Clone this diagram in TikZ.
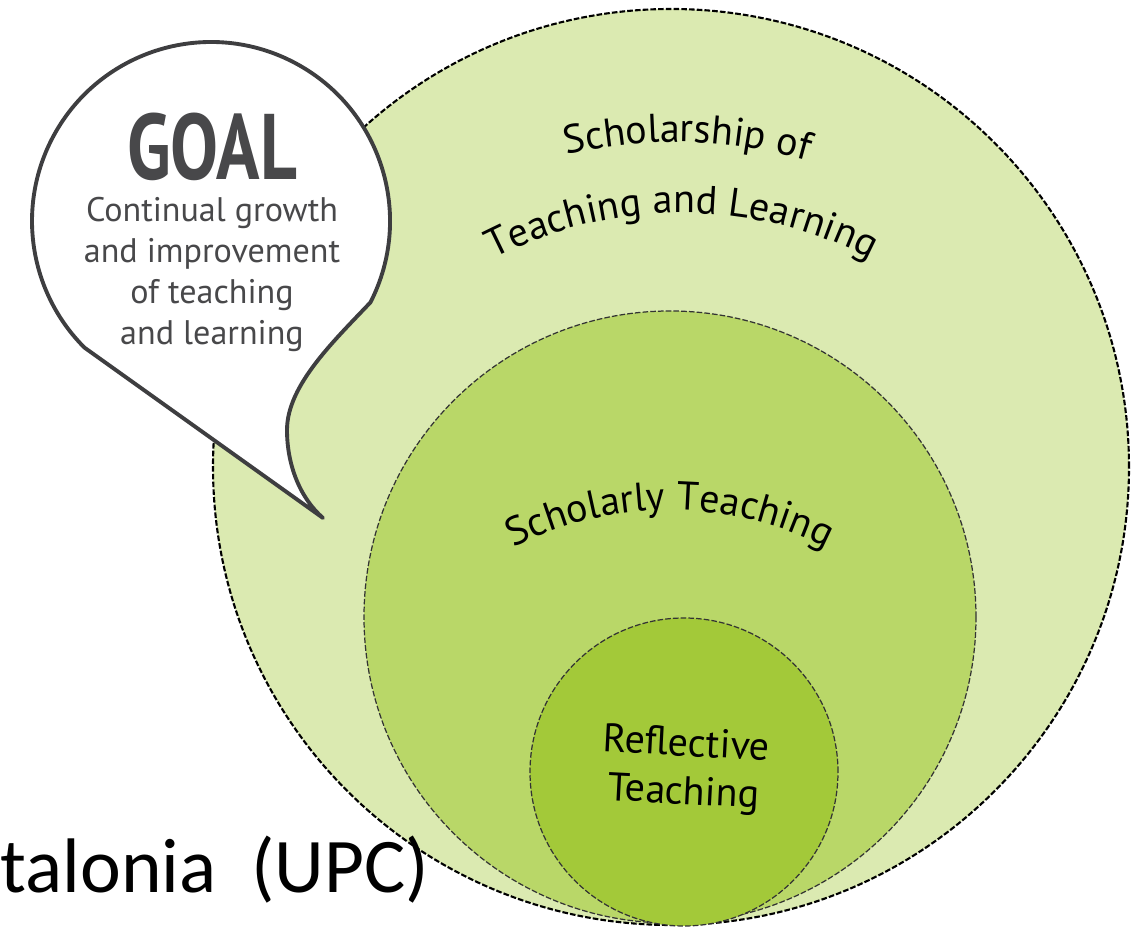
\documentclass[tikz,border=0pt]{standalone}
\usepackage{fontspec}
\setmainfont{PT Sans}
\newfontfamily\goalfont[FakeStretch=0.77]{PT Sans Bold}
\newfontfamily\slidefont{Carlito}
\usetikzlibrary{decorations.text}
\definecolor{outerfill}{RGB}{219,234,177}
\definecolor{midfill}{RGB}{185,215,104}
\definecolor{innerfill}{RGB}{163,201,57}
\definecolor{bubbleink}{RGB}{62,62,64}
\definecolor{goalgray}{RGB}{72,72,74}
\newcommand\lblsize{\fontsize{11.4}{13.7}\selectfont}

\begin{document}
\begin{tikzpicture}[
    ring/.style={circle, draw=black!80, line width=0.35pt, dash pattern=on 1.6pt off 0.6pt, inner sep=0pt},
    arclabel/.style={decorate, decoration={text along path, text align=center}},
    bubble/.style={draw=bubbleink, line width=1.1pt, fill=white, line join=round},
  ]
  \useasboundingbox (0,0) rectangle (11.46,-9.28);

  \node[ring, fill=outerfill, draw=black, line width=0.6pt, minimum size=9.16cm] (sotl) at (6.71,-4.67) {};

  \coordinate (bubblecentre) at (2.11,-2.21);
  \coordinate (tip) at (3.23,-5.18);
  \coordinate (neck) at (2.87,-4.30);
  \draw[bubble] (3.705,-3.023) arc[start angle=-27, end angle=225, radius=1.79] -- (tip)
    .. controls (3.00,-4.98) and (2.87,-4.65) .. (neck)
    .. controls (2.87,-3.85) and (3.35,-3.40) .. (3.705,-3.023) -- cycle;

  \node[ring, fill=midfill, minimum size=6.12cm] (scholarly) at (6.70,-6.17) {};
  \node[ring, fill=innerfill, minimum size=3.08cm] (reflective) at (6.84,-7.72) {};

  \node[anchor=base, text=goalgray, font=\goalfont\fontsize{26.5}{28}\selectfont] (goal) at (2.12,-1.80) {GOAL};
  \node[anchor=base, text=goalgray, align=center, font=\fontsize{9.7}{11.7}\selectfont] (goaltext) at (2.12,-3.45)
    {Continual growth\\and improvement\\of teaching\\and learning};

  \path[arclabel, shift={(6.76,-6.20)}, decoration={text={|\lblsize|Scholarship of}}]
    (108.6:4.78) arc[start angle=108.6, end angle=68.6, radius=4.78];
  \path[arclabel, shift={(6.82,-6.23)}, decoration={text={|\lblsize|Teaching and Learning}}]
    (120:4.10) arc[start angle=120, end angle=60, radius=4.10];
  \path[arclabel, shift={(6.70,-8.53)}, decoration={text={|\lblsize|Scholarly Teaching}}]
    (125:3.43) arc[start angle=125, end angle=55, radius=3.43];
  \node[rotate=-3, align=center, font=\lblsize] (reflabel) at (6.85,-7.70) {Reflective\\Teaching};

  \node[anchor=base west, inner sep=0pt, font=\slidefont\fontsize{22}{26}\selectfont] (upc) at (0,-8.93) {talonia~~(UPC)};
\end{tikzpicture}
\end{document}
